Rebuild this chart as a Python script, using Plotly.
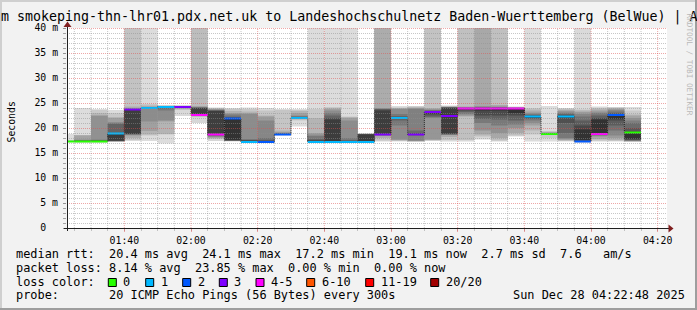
import plotly.graph_objects as go
import pandas as pd

# ---------------- data ----------------
interval_start = pd.date_range("2025-12-28 01:20:00", periods=35, freq="5min")

median_ms = [17.3, 17.3, 17.3, 18.9, 23.7, 24.0, 24.2, 24.2, 22.6, 18.7,
             21.9, 17.2, 17.2, 18.7, 22.0, 17.2, 17.2, 17.2, 17.2, 18.7,
             22.0, 18.7, 23.2, 22.4, 23.9, 23.9, 23.9, 23.9, 22.3, 18.8,
             22.3, 17.3, 18.8, 22.6, 19.1]

lost_pings = [0, 0, 0, 1, 3, 1, 1, 3, 5, 5,
              2, 1, 2, 2, 1, 1, 1, 1, 1, 3,
              1, 3, 3, 3, 4, 4, 4, 4, 1, 0,
              1, 2, 4, 2, 0]

# received ping round-trip times (ms) of each 5-minute round, sorted
ping_rtts = [
    [17.2, 17.2, 17.2, 17.25, 17.25, 17.25, 17.3, 17.3, 17.3, 17.3, 17.3, 17.3, 17.3, 17.35, 17.35, 17.35, 17.4, 17.4, 17.45, 18.8],
    [17.1, 17.15, 17.2, 17.2, 17.25, 17.25, 17.3, 17.3, 17.3, 17.3, 17.3, 17.35, 17.4, 17.5, 17.6, 17.7, 18.5, 18.6, 18.6, 24.0],
    [17.1, 17.15, 17.2, 17.2, 17.25, 17.25, 17.3, 17.3, 17.3, 17.3, 17.35, 17.4, 17.5, 17.6, 17.7, 22.4, 22.6, 23.0, 23.6, 23.8],
    [17.3, 17.3, 17.3, 17.35, 17.35, 17.4, 17.4, 17.4, 17.5, 18.8, 18.9, 19.0, 20.8, 21.0, 21.2, 22.0, 22.2, 23.0, 23.6],
    [17.4, 17.6, 18.0, 18.5, 18.7, 18.7, 18.8, 18.8, 23.7, 23.7, 23.7, 23.8, 23.9, 24.0, 24.3, 70, 90],
    [17.4, 18.5, 18.7, 19.4, 21.3, 23.8, 23.9, 23.9, 24.0, 24.0, 24.0, 24.1, 24.1, 24.2, 24.2, 24.3, 24.5, 24.8, 60],
    [16.9, 18.7, 18.8, 21.3, 21.5, 23.5, 23.9, 24.0, 24.1, 24.2, 24.2, 24.25, 24.3, 24.3, 24.35, 24.4, 24.4, 24.5, 24.6],
    [22.4, 23.6, 23.8, 24.0, 24.1, 24.2, 24.2, 24.2, 24.2, 24.2, 24.2, 24.2, 24.2, 24.3, 24.3, 24.4, 24.6],
    [21.0, 22.2, 22.4, 22.5, 22.6, 22.6, 22.7, 22.7, 24.0, 24.05, 24.1, 24.2, 24.4, 60, 80],
    [17.4, 17.8, 18.0, 18.2, 18.4, 18.6, 18.7, 18.7, 23.4, 23.5, 23.6, 23.7, 23.8, 24.0, 24.1],
    [17.3, 17.4, 17.4, 17.4, 17.45, 17.5, 17.5, 17.55, 17.6, 21.9, 22.0, 22.2, 22.5, 22.8, 23.0, 23.4, 23.8, 24.0],
    [17.1, 17.2, 17.2, 17.3, 17.3, 17.3, 17.3, 17.3, 17.3, 17.3, 17.4, 17.5, 17.6, 17.8, 22.8, 23.0, 23.3, 23.8, 24.1],
    [17.1, 17.15, 17.2, 17.2, 17.2, 17.2, 17.25, 17.25, 17.3, 17.3, 17.4, 17.6, 18.0, 21.5, 22.3, 22.5, 23.5, 24.0],
    [18.5, 18.6, 18.6, 18.6, 18.65, 18.65, 18.7, 18.7, 18.7, 18.7, 18.75, 18.8, 18.9, 19.0, 19.2, 19.5, 23.6, 23.8],
    [20.3, 21.5, 21.7, 21.8, 21.9, 22.0, 22.0, 22.0, 22.0, 22.0, 22.0, 22.1, 22.2, 22.3, 22.5, 23.0, 23.4, 23.6, 23.8],
    [17.2, 17.2, 17.3, 17.3, 17.3, 17.3, 17.3, 17.3, 17.3, 17.3, 17.4, 17.5, 17.8, 18.4, 18.7, 19.0, 22.0, 23.8, 70],
    [17.1, 17.15, 17.2, 17.2, 17.2, 17.2, 17.2, 17.2, 17.2, 17.2, 21.7, 22.0, 22.5, 23.0, 23.5, 23.8, 24.0, 24.2, 60],
    [17.1, 17.2, 17.2, 17.2, 17.2, 17.2, 17.2, 17.2, 17.2, 17.2, 17.3, 17.4, 17.6, 18.0, 21.5, 22.0, 22.2, 22.3, 55],
    [17.1, 17.2, 17.2, 17.2, 17.2, 17.2, 17.2, 17.2, 17.2, 17.2, 18.7, 18.75, 18.8, 18.8, 18.8, 18.8, 18.85, 18.9, 18.9],
    [17.3, 17.5, 18.0, 18.4, 18.5, 18.6, 18.7, 18.7, 18.7, 23.5, 23.7, 23.8, 23.9, 24.0, 70, 80, 90],
    [17.3, 17.4, 17.5, 17.6, 17.7, 20.5, 21.5, 21.8, 21.9, 22.0, 22.1, 22.2, 22.4, 22.8, 23.8, 23.9, 24.0, 24.1, 24.4],
    [17.2, 17.3, 17.4, 17.4, 17.5, 18.5, 18.6, 18.7, 18.7, 18.8, 19.0, 19.5, 23.8, 24.0, 24.1, 24.3, 24.4],
    [17.4, 17.5, 17.6, 17.7, 22.0, 22.2, 22.5, 22.8, 23.2, 23.3, 23.4, 23.5, 23.6, 23.8, 24.0, 60, 75],
    [17.3, 17.6, 18.2, 18.6, 18.7, 18.7, 18.8, 18.9, 22.4, 24.0, 24.1, 24.1, 24.2, 24.2, 24.3, 24.4, 24.5],
    [17.3, 17.6, 22.3, 22.5, 22.8, 23.2, 23.5, 23.8, 23.9, 24.0, 24.0, 24.1, 24.2, 24.3, 60, 75],
    [17.7, 18.3, 18.7, 19.5, 21.0, 21.8, 22.5, 23.5, 23.9, 24.0, 24.1, 24.2, 24.4, 55, 65, 80],
    [17.3, 17.5, 18.0, 19.0, 20.5, 21.7, 22.5, 23.5, 23.9, 24.0, 24.1, 24.2, 24.3, 24.6, 55, 70],
    [18.3, 18.5, 19.0, 20.0, 20.7, 21.5, 22.5, 23.0, 23.9, 23.9, 24.0, 24.0, 24.1, 24.1, 24.2, 24.3],
    [17.3, 18.7, 19.5, 20.5, 21.0, 21.5, 21.8, 22.0, 22.1, 22.3, 22.4, 22.5, 22.6, 22.8, 23.0, 23.3, 23.7, 24.0, 60],
    [17.3, 18.0, 18.6, 18.7, 18.7, 18.75, 18.8, 18.8, 18.8, 18.8, 18.8, 18.85, 18.9, 18.9, 19.0, 19.0, 19.2, 19.3, 19.3, 24.4],
    [17.3, 17.4, 17.5, 17.6, 17.8, 18.0, 19.0, 21.0, 22.0, 22.3, 22.4, 22.6, 22.8, 23.0, 23.3, 23.5, 23.7, 23.9, 24.0],
    [17.1, 17.2, 17.2, 17.3, 17.3, 17.3, 17.4, 17.5, 17.6, 19.7, 20.5, 21.5, 22.3, 22.8, 23.2, 23.5, 23.7, 60],
    [17.3, 17.5, 17.8, 18.3, 18.5, 18.7, 18.8, 18.9, 21.7, 22.0, 22.5, 23.0, 23.3, 23.7, 24.0, 24.3],
    [17.3, 17.4, 17.6, 18.0, 18.5, 19.5, 20.5, 21.5, 21.8, 22.4, 22.6, 23.0, 23.3, 23.6, 23.8, 24.0, 24.1, 24.2],
    [17.2, 17.3, 17.3, 17.4, 17.4, 17.5, 17.5, 17.6, 17.7, 17.8, 19.1, 19.3, 20.0, 21.0, 21.5, 22.0, 22.5, 22.7, 23.5, 24.2],
]

loss_classes = [("0", 0, 0, "#26ff00"), ("1", 1, 1, "#00b8ff"), ("2", 2, 2, "#0059ff"),
                ("3", 3, 3, "#7e00ff"), ("4-5", 4, 5, "#ff00ff"), ("6-10", 6, 10, "#ff5500"),
                ("11-19", 11, 19, "#ff0000"), ("20/20", 20, 20, "#a10000")]

y_tick_values = [0, 5, 10, 15, 20, 25, 30, 35, 40]
y_tick_labels = ["0\u00a0\u00a0", "5 m", "10 m", "15 m", "20 m", "25 m", "30 m", "35 m", "40 m"]

title_text = "m smokeping-thn-lhr01.pdx.net.uk to Landeshochschulnetz Baden-Wuerttemberg (BelWue) | A"
stat_rtt = "median rtt:  20.4 ms avg  24.1 ms max  17.2 ms min  19.1 ms now  2.7 ms sd  7.6   am/s"
stat_loss = "packet loss: 8.14 % avg  23.85 % max  0.00 % min  0.00 % now"
probe_text = "probe:       20 ICMP Echo Pings (56 Bytes) every 300s"
date_text = "Sun Dec 28 04:22:48 2025"

# ---------------- geometry ----------------
W, H = 697, 310
L, R, T, B = 67, 667, 28, 228          # plot area in pixels
def px(x):
    return (x - L) / (R - L)
def py(y):
    return (B - y) / (B - T)

MONO = "DejaVu Sans Mono"
GRID = "rgba(143,143,143,0.5)"
MGRID = "rgba(222,79,79,0.5)"

step = pd.Timedelta(minutes=5)
centers = interval_start + step / 2
t_start = pd.Timestamp("2025-12-28 01:22:48")
t_end = pd.Timestamp("2025-12-28 04:22:48")

fig = go.Figure()

# smoke: pairs of sorted pings, outer pair lightest, inner pair darkest
for b in range(1, 11):
    bases, heights, cols = [], [], []
    for pings in ping_rtts:
        v = sorted(pings)
        m = len(v)
        half = m / 2
        if b <= m // 2:
            lo, hi = v[b - 1], v[m - b]
            g = int(190 / half * (half - b)) + 50
            bases.append(lo)
            heights.append(hi - lo)
            cols.append(f"rgb({g},{g},{g})")
        else:
            bases.append(None)
            heights.append(None)
            cols.append("rgba(0,0,0,0)")
    fig.add_trace(go.Bar(x=centers, y=heights, base=bases, width=300000,
                         marker=dict(color=cols, line=dict(width=0)),
                         hoverinfo="skip", showlegend=False))

# median step (dark dotted connectors)
xs = list(interval_start) + [interval_start[-1] + step]
ys = list(median_ms) + [median_ms[-1]]
fig.add_trace(go.Scatter(x=xs, y=ys, mode="lines", line_shape="hv",
                         line=dict(color="#1a1a1a", width=1, dash="1px,1px"),
                         hoverinfo="skip", showlegend=False))

# coloured median segments by loss
for name, lo_l, hi_l, col in loss_classes:
    sx, sy = [], []
    for s, med, lost in zip(interval_start, median_ms, lost_pings):
        if lo_l <= lost <= hi_l:
            sx += [s, s + step, None]
            sy += [med, med, None]
    if sx:
        fig.add_trace(go.Scatter(x=sx, y=sy, mode="lines",
                                 line=dict(color=col, width=2),
                                 hoverinfo="skip", showlegend=False))

shapes = []
# grid above the smoke
for v in range(1, 41):
    shapes.append(dict(type="line", xref="paper", yref="y", x0=0, x1=1,
                       y0=v - 0.1, y1=v - 0.1, layer="above",
                       line=dict(color=MGRID if v % 5 == 0 else GRID, width=1, dash="1px,1px")))
for t in pd.date_range("2025-12-28 01:25:00", "2025-12-28 04:20:00", freq="5min"):
    major = (t.minute % 20 == 0)
    shapes.append(dict(type="line", xref="x", yref="paper", x0=t, x1=t, y0=0, y1=1,
                       layer="above",
                       line=dict(color=MGRID if major else GRID, width=1, dash="1px,1px")))
# axes + arrows
shapes.append(dict(type="line", xref="paper", yref="paper", x0=px(64), x1=px(669),
                   y0=py(228.5), y1=py(228.5), layer="above", line=dict(color="#1f1f1f", width=1)))
shapes.append(dict(type="line", xref="paper", yref="paper", x0=px(67.5), x1=px(67.5),
                   y0=py(231), y1=py(26), layer="above", line=dict(color="#1f1f1f", width=1)))
shapes.append(dict(type="path", xref="paper", yref="paper", layer="above",
                   path=f"M {px(668.5)},{py(224.5)} L {px(673.5)},{py(228.5)} L {px(668.5)},{py(232.5)} Z",
                   fillcolor="#801f1f", line=dict(width=0)))
shapes.append(dict(type="path", xref="paper", yref="paper", layer="above",
                   path=f"M {px(63.5)},{py(27)} L {px(67.5)},{py(21.5)} L {px(71.5)},{py(27)} Z",
                   fillcolor="#801f1f", line=dict(width=0)))
# 3D frame
shapes.append(dict(type="rect", xref="paper", yref="paper", x0=px(0), x1=px(W), y0=py(0), y1=py(2),
                   fillcolor="#cfcfcf", line=dict(width=0), layer="above"))
shapes.append(dict(type="rect", xref="paper", yref="paper", x0=px(0), x1=px(2), y0=py(0), y1=py(H),
                   fillcolor="#cfcfcf", line=dict(width=0), layer="above"))
shapes.append(dict(type="rect", xref="paper", yref="paper", x0=px(0), x1=px(W), y0=py(H - 2), y1=py(H),
                   fillcolor="#9e9e9e", line=dict(width=0), layer="above"))
shapes.append(dict(type="rect", xref="paper", yref="paper", x0=px(W - 2), x1=px(W), y0=py(0), y1=py(H),
                   fillcolor="#9e9e9e", line=dict(width=0), layer="above"))

# legend boxes
box_left = [108.3, 145.7, 182.7, 219.3, 256, 306.7, 365.7, 430.7]
for bx, (name, _, _, col) in zip(box_left, loss_classes):
    shapes.append(dict(type="rect", xref="paper", yref="paper", x0=px(bx), x1=px(bx + 8),
                       y0=py(286.5), y1=py(278.5), fillcolor=col,
                       line=dict(color="#000000", width=1), layer="above"))

def nb(s):
    return s.replace(" ", "\u00a0")

ann = []
def text(x, y, s, size, xanchor="left", angle=0, color="#000000"):
    ann.append(dict(xref="paper", yref="paper", x=px(x), y=py(y), text=nb(s), showarrow=False,
                    xanchor=xanchor, yanchor="middle", textangle=angle, borderpad=0,
                    font=dict(family=MONO, size=size, color=color)))

text(0, 17, title_text, 13.3)
text(11, 122.5, "Seconds", 9.8, xanchor="center", angle=-90)
text(689.5, 64, "RRDTOOL / TOBI OETIKER", 7.7, xanchor="center", angle=90, color="#b8b8b8")
text(15, 254.3, stat_rtt, 11.9)
text(15, 267.7, stat_loss, 11.9)
text(15, 282, "loss color:", 11.9)
for bx, (name, _, _, col) in zip(box_left, loss_classes):
    text(bx + 14, 282, name, 11.9)
text(15, 295, probe_text, 11.9)
text(512, 295, date_text, 11.9)

x_ticks = pd.date_range("2025-12-28 01:40:00", "2025-12-28 04:20:00", freq="20min")
x_minor = pd.date_range("2025-12-28 01:25:00", "2025-12-28 04:20:00", freq="5min")

fig.update_layout(
    width=W, height=H, margin=dict(l=L, r=W - R, t=T, b=H - B, pad=0),
    paper_bgcolor="#f2f2f2", plot_bgcolor="#ffffff",
    barmode="overlay", showlegend=False,
    shapes=shapes, annotations=ann,
    xaxis=dict(type="date", range=[t_start, t_end], showgrid=False, zeroline=False, showline=False,
               tickmode="array", tickvals=list(x_ticks), ticktext=[t.strftime("%H:%M") for t in x_ticks],
               ticks="outside", ticklen=3, tickcolor=MGRID, tickwidth=1,
               tickfont=dict(family=MONO, size=9.8, color="#000000"), ticklabelstandoff=0,
               minor=dict(tickmode="array", tickvals=list(x_minor), ticks="outside",
                          ticklen=2, tickcolor=GRID, showgrid=False)),
    yaxis=dict(range=[0, 40], showgrid=False, zeroline=False, showline=False,
               tickmode="array", tickvals=y_tick_values, ticktext=y_tick_labels,
               ticks="outside", ticklen=3, tickcolor="rgba(143,143,143,0.8)", tickwidth=1,
               tickfont=dict(family=MONO, size=9.8, color="#000000"), ticklabelstandoff=3,
               minor=dict(tickmode="array", tickvals=list(range(0, 41)), ticks="outside",
                          ticklen=3, tickcolor="rgba(143,143,143,0.8)", showgrid=False)),
)

fig.write_html("out.html")
